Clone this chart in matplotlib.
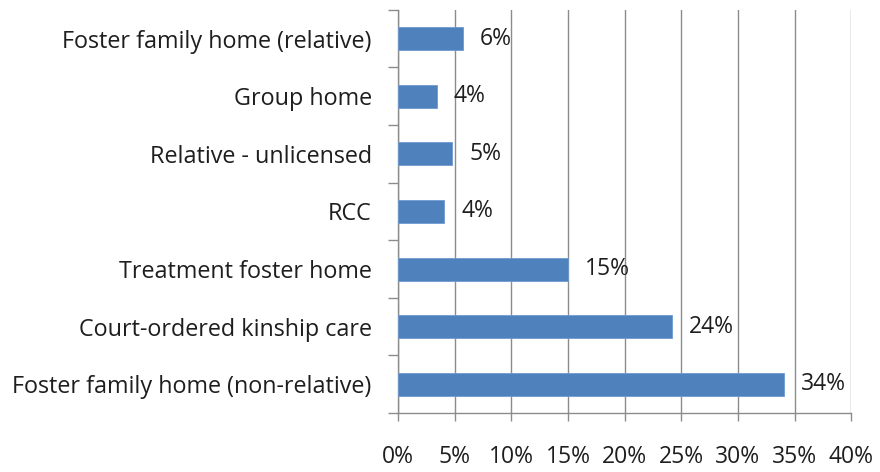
import matplotlib
matplotlib.use("Agg")
import matplotlib.pyplot as plt
import numpy as np

# data, top to bottom as shown
categories = [
    "Foster family home (relative)",
    "Group home",
    "Relative - unlicensed",
    "RCC",
    "Treatment foster home",
    "Court-ordered kinship care",
    "Foster family home (non-relative)",
]
values = [5.7, 3.45, 4.8, 4.1, 15.0, 24.2, 34.1]
labels = ["6%", "4%", "5%", "4%", "15%", "24%", "34%"]
xticks = [0, 5, 10, 15, 20, 25, 30, 35, 40]

plt.rcParams["font.family"] = ["Open Sans", "DejaVu Sans"]
TXT = "#1e1e1e"
GRID = "#8c8c8c"
FS = 16.5

fig = plt.figure(figsize=(8.8, 4.72), dpi=100)
ax = fig.add_axes([0.4523, 0.125, 0.515, 0.854])

n = len(categories)
y = np.arange(n)[::-1]
ax.barh(y, values, height=0.4, color="#4F81BD", edgecolor="#6f9ad0", linewidth=0.6, zorder=3)

for yi, v, lab in zip(y, values, labels):
    ax.annotate(lab, (v, yi), xytext=(12, 0), textcoords="offset points",
                va="center", ha="left", fontsize=FS, color=TXT)

ax.set_xlim(0, 40)
ax.set_ylim(-0.5, n - 0.5)
ax.set_xticks(xticks)
ax.set_xticklabels([f"{t}%" for t in xticks], fontsize=FS, color=TXT)
ax.tick_params(axis="x", length=6, width=1, color=GRID, pad=17)

ax.set_yticks(y)
ax.set_yticklabels(categories, fontsize=16.8, color=TXT)
ax.set_yticks(np.arange(n + 1) - 0.5, minor=True)
ax.tick_params(axis="y", which="major", length=0, pad=19)
ax.tick_params(axis="y", which="minor", length=7, width=1, color=GRID)

ax.grid(axis="x", color=GRID, linewidth=1, zorder=0)
for s in ["top", "right"]:
    ax.spines[s].set_visible(False)
for s in ["left", "bottom"]:
    ax.spines[s].set_color(GRID)
    ax.spines[s].set_linewidth(1)

fig.savefig("out.png", dpi=100, facecolor="white")
